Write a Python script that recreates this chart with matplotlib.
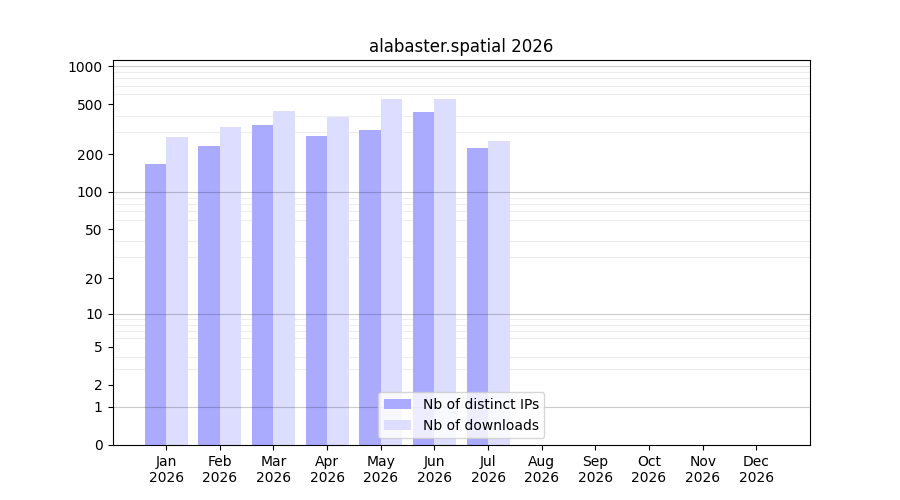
import numpy as np
import matplotlib
matplotlib.use("Agg")
import matplotlib.pyplot as plt

# monthly stats
months = ["Jan", "Feb", "Mar", "Apr", "May", "Jun", "Jul",
          "Aug", "Sep", "Oct", "Nov", "Dec"]
year = "2026"
distinct_ips = [168, 233, 343, 280, 312, 434, 224]
downloads = [275, 330, 443, 399, 551, 551, 255]
ytick_values = [0, 1, 2, 5, 10, 20, 50, 100, 200, 500, 1000]


def forward(y):
    return np.log10(np.asarray(y, dtype=float) + 1)


def inverse(y):
    return 10 ** np.asarray(y, dtype=float) - 1


def main():
    fig, ax = plt.subplots(figsize=(9, 5), dpi=100)
    ax.set_axisbelow(True)

    x = np.arange(len(distinct_ips))
    width = 0.4
    ax.bar(x, distinct_ips, width=-width, align="edge", color="#aaaaff",
           label="Nb of distinct IPs")
    ax.bar(x, downloads, width=width, align="edge", color="#ddddff",
           label="Nb of downloads")

    ax.set_yscale("function", functions=(forward, inverse))
    ax.set_ylim(0, 1120)
    ax.set_xlim(-1, 12)

    ax.set_yticks(ytick_values)
    ax.set_yticklabels([str(v) for v in ytick_values])
    minor = [m * 10 ** k for k in range(3) for m in range(2, 10)]
    ax.set_yticks(minor, minor=True)
    ax.tick_params(axis="y", which="minor", length=0)
    ax.grid(axis="y", which="minor", color="0.93", linewidth=0.8)
    # decade lines drawn over the bars
    for v in [1, 10, 100, 1000]:
        ax.axhline(v, color="black", alpha=0.2, linewidth=0.8, zorder=1.5)

    ax.set_xticks(np.arange(len(months)))
    ax.set_xticklabels([m + "\n" + year for m in months])

    ax.set_title("alabaster.spatial 2026")
    ax.legend(loc="lower center")

    fig.savefig("out.png")


if __name__ == "__main__":
    main()
